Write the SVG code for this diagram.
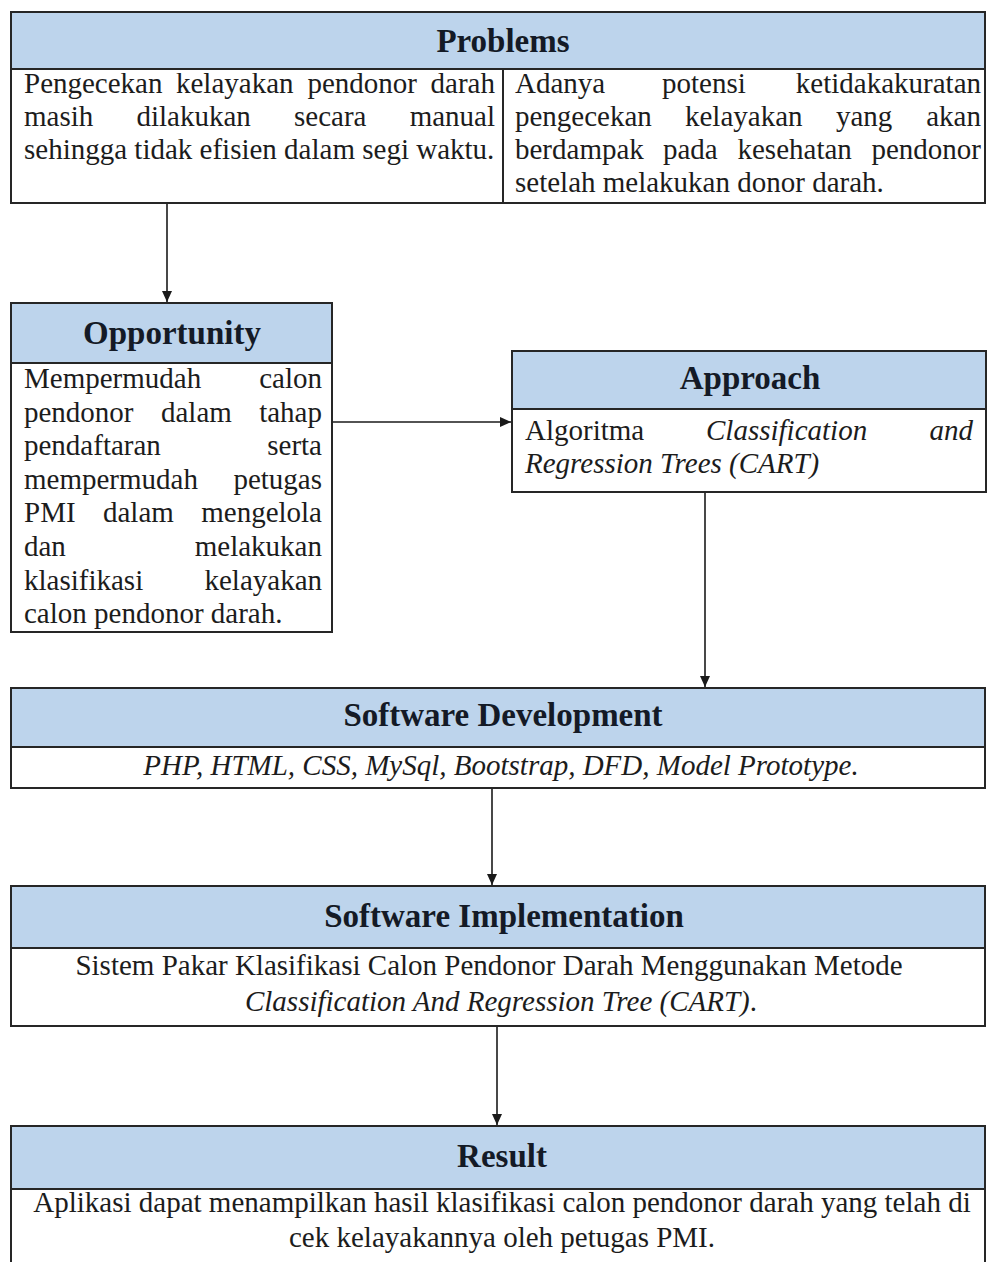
<svg xmlns="http://www.w3.org/2000/svg" width="988" height="1262" viewBox="0 0 988 1262">
<style>
.box{fill:#ffffff;stroke:#262626;stroke-width:2}
.hdr{fill:#bdd4ec;stroke:#262626;stroke-width:2}
.ttl{font-family:"Liberation Serif","Times New Roman",serif;font-weight:bold;font-size:33px;fill:#141a26;text-anchor:middle}
.bd{font-family:"Liberation Serif","Times New Roman",serif;font-size:29px;fill:#1c1c1c}
.it{font-style:italic}
.mid{text-anchor:middle}
.end{text-anchor:end}
.conn{stroke:#1a1a1a;stroke-width:1.6;fill:none}
</style>
<defs>
<marker id="arr" markerUnits="userSpaceOnUse" markerWidth="12" markerHeight="10" refX="11" refY="5" orient="auto">
<path d="M0,0 L11,5 L0,10 z" fill="#1a1a1a"/>
</marker>
</defs>
<rect width="988" height="1262" fill="#ffffff"/>

<g id="connectors">
<line class="conn" x1="167" y1="203" x2="167" y2="302" marker-end="url(#arr)"/>
<line class="conn" x1="332" y1="422" x2="511" y2="422" marker-end="url(#arr)"/>
<line class="conn" x1="705" y1="492" x2="705" y2="687" marker-end="url(#arr)"/>
<line class="conn" x1="492" y1="788" x2="492" y2="885" marker-end="url(#arr)"/>
<line class="conn" x1="497" y1="1026" x2="497" y2="1125" marker-end="url(#arr)"/>
</g>

<g id="problems">
<rect class="box" x="11" y="12" width="974" height="191"/>
<rect class="hdr" x="11" y="12" width="974" height="57"/>
<line x1="503" y1="69" x2="503" y2="203" stroke="#262626" stroke-width="2"/>
<text class="ttl" x="503" y="52">Problems</text>
<text class="bd" y="93"><tspan x="24">Pengecekan</tspan><tspan x="176">kelayakan</tspan><tspan x="307.5">pendonor</tspan><tspan x="495" class="end">darah</tspan></text>
<text class="bd" y="126"><tspan x="24">masih</tspan><tspan x="136.5">dilakukan</tspan><tspan x="294">secara</tspan><tspan x="495" class="end">manual</tspan></text>
<text class="bd" x="24" y="159">sehingga tidak efisien dalam segi waktu.</text>
<text class="bd" y="93"><tspan x="515">Adanya</tspan><tspan x="662">potensi</tspan><tspan x="981" class="end">ketidakakuratan</tspan></text>
<text class="bd" y="126"><tspan x="515">pengecekan</tspan><tspan x="685">kelayakan</tspan><tspan x="836">yang</tspan><tspan x="981" class="end">akan</tspan></text>
<text class="bd" y="159"><tspan x="515">berdampak</tspan><tspan x="663">pada</tspan><tspan x="737.5">kesehatan</tspan><tspan x="981" class="end">pendonor</tspan></text>
<text class="bd" x="515" y="192">setelah melakukan donor darah.</text>
</g>

<g id="opportunity">
<rect class="box" x="11" y="303" width="321" height="329"/>
<rect class="hdr" x="11" y="303" width="321" height="60"/>
<text class="ttl" x="172" y="344">Opportunity</text>
<text class="bd" y="388"><tspan x="24">Mempermudah</tspan><tspan x="322" class="end">calon</tspan></text>
<text class="bd" y="421.6"><tspan x="24">pendonor</tspan><tspan x="161">dalam</tspan><tspan x="322" class="end">tahap</tspan></text>
<text class="bd" y="455.2"><tspan x="24">pendaftaran</tspan><tspan x="322" class="end">serta</tspan></text>
<text class="bd" y="488.8"><tspan x="24">mempermudah</tspan><tspan x="322" class="end">petugas</tspan></text>
<text class="bd" y="522.4"><tspan x="24">PMI</tspan><tspan x="103">dalam</tspan><tspan x="322" class="end">mengelola</tspan></text>
<text class="bd" y="556"><tspan x="24">dan</tspan><tspan x="322" class="end">melakukan</tspan></text>
<text class="bd" y="589.6"><tspan x="24">klasifikasi</tspan><tspan x="322" class="end">kelayakan</tspan></text>
<text class="bd" x="24" y="623.2">calon pendonor darah.</text>
</g>

<g id="approach">
<rect class="box" x="512" y="351" width="474" height="141"/>
<rect class="hdr" x="512" y="351" width="474" height="58"/>
<text class="ttl" x="750" y="389">Approach</text>
<text class="bd" y="440"><tspan x="525">Algoritma</tspan><tspan x="706" class="it">Classification</tspan><tspan x="973" class="it end">and</tspan></text>
<text class="bd it" x="525" y="473">Regression Trees (CART)</text>
</g>

<g id="software-development">
<rect class="box" x="11" y="688" width="974" height="100"/>
<rect class="hdr" x="11" y="688" width="974" height="59"/>
<text class="ttl" x="503" y="726">Software Development</text>
<text class="bd it mid" x="501" y="775">PHP, HTML, CSS, MySql, Bootstrap, DFD, Model Prototype.</text>
</g>

<g id="software-implementation">
<rect class="box" x="11" y="886" width="974" height="140"/>
<rect class="hdr" x="11" y="886" width="974" height="62"/>
<text class="ttl" x="504" y="927">Software Implementation</text>
<text class="bd mid" x="489" y="975">Sistem Pakar Klasifikasi Calon Pendonor Darah Menggunakan Metode</text>
<text class="bd mid" x="501" y="1011"><tspan class="it">Classification And Regression Tree (CART)</tspan>.</text>
</g>

<g id="result">
<rect class="box" x="11" y="1126" width="974" height="140"/>
<rect class="hdr" x="11" y="1126" width="974" height="63"/>
<text class="ttl" x="502" y="1167">Result</text>
<text class="bd mid" x="502" y="1212">Aplikasi dapat menampilkan hasil klasifikasi calon pendonor darah yang telah di</text>
<text class="bd mid" x="502" y="1247">cek kelayakannya oleh petugas PMI.</text>
</g>
</svg>
